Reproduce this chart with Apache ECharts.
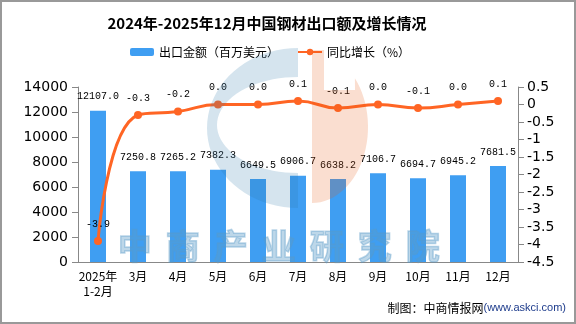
<!DOCTYPE html>
<html>
<head>
<meta charset="utf-8">
<script src="https://cdn.jsdelivr.net/npm/echarts@6/dist/echarts.min.js"></script>
<style>html,body{margin:0;padding:0;background:#fff;}#c{width:576px;height:324px;}</style>
</head>
<body>
<div id="c"></div>
<script>
var categories = ['2025年\n1-2月','3月','4月','5月','6月','7月','8月','9月','10月','11月','12月'];
var exportValue = [12107.0, 7250.8, 7265.2, 7382.3, 6649.5, 6906.7, 6638.2, 7106.7, 6694.7, 6945.2, 7681.5];
var yoyGrowth = [-3.9, -0.3, -0.2, 0.0, 0.0, 0.1, -0.1, 0.0, -0.1, 0.0, 0.1];
var leftTicks = {min: 0, max: 14000, interval: 2000};
var rightTicks = {min: -4.5, max: 0.5, interval: 0.5};
var watermarkText = '中商产业研究院';

function ellPts(cx, cy, rx, ry, a0, a1, n) {
  var pts = [];
  for (var k = 0; k <= n; k++) {
    var a = (a0 + (a1 - a0) * k / n) * Math.PI / 180;
    pts.push([cx + rx * Math.cos(a), cy + ry * Math.sin(a)]);
  }
  return pts;
}
// decorative logo watermark shapes
var bluePts = ellPts(298, 128, 91, 80, -90, -270, 40).concat(ellPts(298, 125, 81, 48, 90, 270, 40));
var orangePts = [[312, 50], [324, 50], [324, 90], [355, 90]].concat(ellPts(312, 127, 56, 76, -40, 90, 30));

var chart = echarts.init(document.getElementById('c'));
var wmChars = [];
for (var i = 0; i < watermarkText.length; i++) {
  wmChars.push({
    type: 'text', left: 117 + i * 48, top: 228, z: 100, silent: true,
    style: {text: watermarkText[i], fill: 'rgba(90,155,200,0.4)', font: 'bold 34px "Noto Sans CJK SC"',
            stroke: 'rgba(90,155,200,0.4)', lineWidth: 1.5}
  });
}
var labelFont = {fontFamily: 'Liberation Mono', fontSize: 10, color: '#000'};
chart.setOption({
  backgroundColor: '#fff',
  animation: false,
  title: {
    text: '2024年-2025年12月中国钢材出口额及增长情况',
    left: 262, top: 11, textAlign: 'center',
    textStyle: {fontFamily: 'Noto Sans CJK SC', fontWeight: 'bold', fontSize: 15, color: '#000'}
  },
  legend: {
    left: 125, top: 41, itemWidth: 24, itemHeight: 8, itemGap: 18,
    textStyle: {fontFamily: 'Noto Sans CJK SC', fontSize: 12, color: '#000'},
    data: ['出口金额（百万美元）', '同比增长（%）']
  },
  grid: {left: 78, right: 58, top: 87, bottom: 62, containLabel: false},
  xAxis: {
    type: 'category', data: categories,
    axisLine: {lineStyle: {color: '#888'}},
    axisTick: {lineStyle: {color: '#888'}, length: 5},
    axisLabel: {color: '#000', fontFamily: 'Noto Sans CJK SC', fontSize: 12, margin: 7, lineHeight: 15, interval: 0}
  },
  yAxis: [{
    type: 'value', min: leftTicks.min, max: leftTicks.max, interval: leftTicks.interval,
    splitLine: {show: false},
    axisLine: {show: true, lineStyle: {color: '#888'}},
    axisTick: {show: true, length: 6, lineStyle: {color: '#888'}},
    axisLabel: {color: '#000', fontFamily: 'DejaVu Sans', fontSize: 14, margin: 10, formatter: function(v){return String(v);}}
  }, {
    type: 'value', min: rightTicks.min, max: rightTicks.max, interval: rightTicks.interval,
    splitLine: {show: false},
    axisLine: {show: true, lineStyle: {color: '#888'}},
    axisTick: {show: true, length: 6, lineStyle: {color: '#888'}},
    axisLabel: {color: '#000', fontFamily: 'DejaVu Sans', fontSize: 14, margin: 9, formatter: function(v){return String(v);}}
  }],
  series: [{
    name: '出口金额（百万美元）', type: 'bar', data: exportValue, barWidth: 16,
    itemStyle: {color: '#3F9EF2'},
    label: Object.assign({show: true, position: 'top', distance: 9, formatter: function(p){return p.value.toFixed(1);}}, labelFont)
  }, {
    name: '同比增长（%）', type: 'line', yAxisIndex: 1, data: yoyGrowth, smooth: true,
    symbol: 'circle', symbolSize: 8,
    lineStyle: {color: '#FF6524', width: 3},
    itemStyle: {color: '#FF6524'},
    label: Object.assign({show: true, position: 'top', distance: 8, formatter: function(p){return p.value.toFixed(1);}}, labelFont)
  }],
  graphic: [
    {type: 'polygon', z: 100, silent: true, shape: {points: bluePts},
     style: {fill: 'rgba(45,120,170,0.2)'}},
    {type: 'polygon', z: 100, silent: true, shape: {points: orangePts},
     style: {fill: 'rgba(230,90,20,0.2)'}},
    {type: 'rect', z: 101, silent: true, shape: {x: 1, y: 1, width: 574, height: 322},
     style: {fill: 'none', stroke: '#999', lineWidth: 2}},
    {type: 'text', right: 10, top: 302, z: 101,
     style: {rich: {a: {fill: '#000', font: '12px "Noto Sans CJK SC"'}, b: {fill: '#1E3C8C', font: '11px "Liberation Sans"'}},
             text: '{a|制图：中商情报网}{b|(www.askci.com)}'}}
  ].concat(wmChars)
});
</script>
</body>
</html>
